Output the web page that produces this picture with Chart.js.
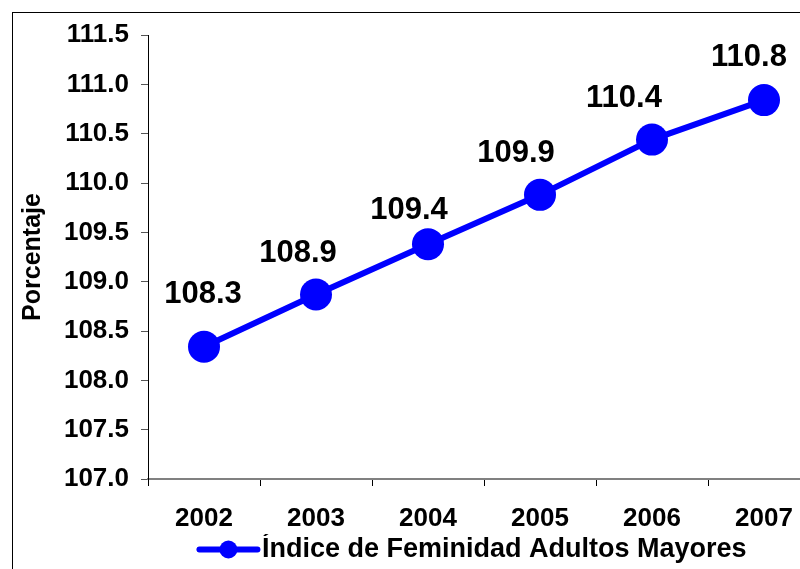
<!DOCTYPE html>
<html>
<head>
<meta charset="utf-8">
<script src="https://cdn.jsdelivr.net/npm/chart.js@4"></script>
<style>
  html, body { margin: 0; padding: 0; background: #fff; overflow: hidden; }
  #wrap { position: relative; width: 952px; height: 569px; }
</style>
</head>
<body>
<div id="wrap"><canvas id="myChart" width="952" height="569"></canvas></div>
<script>
// data
const years = ['2002', '2003', '2004', '2005', '2006', '2007']
const indice = [108.34, 108.87, 109.38, 109.88, 110.44, 110.84]
const serieName = 'Índice de Feminidad Adultos Mayores'
const yTitle = 'Porcentaje'

const font = "'Liberation Sans', Arial, sans-serif"
const blue = '#0000FF'

// outer frame of the original picture
const framePlugin = {
  id: 'frame',
  beforeDraw(chart) {
    const ctx = chart.ctx
    ctx.save()
    ctx.strokeStyle = '#000'
    ctx.lineWidth = 1
    ctx.strokeRect(12.5, 12.5, 2000, 2000)
    ctx.restore()
  }
}

// values above each point (labels were nudged by hand in the original)
const valueLabels = {
  id: 'valueLabels',
  afterDatasetsDraw(chart, args, opts) {
    const ctx = chart.ctx
    const meta = chart.getDatasetMeta(0)
    ctx.save()
    ctx.font = 'bold 31px ' + font
    ctx.fillStyle = '#000'
    ctx.textAlign = 'center'
    ctx.textBaseline = 'middle'
    meta.data.forEach((pt, i) => {
      ctx.fillText(indice[i].toFixed(1), pt.x + opts.dx[i], pt.y + opts.dy[i])
    })
    ctx.restore()
  }
}

// the legend sits right of the canvas centre (and a bit lower) in the original
const legendShift = {
  id: 'legendShift',
  afterLayout(chart) {
    chart.legend.left += 62
    chart.legend.right += 62
    chart.legend.top += 4
    chart.legend.bottom += 4
  }
}

// legend marker: line with a dot in the middle
const legendMarker = {
  id: 'legendMarker',
  afterDraw(chart) {
    const hb = chart.legend.legendHitBoxes[0]
    if (!hb) return
    const ctx = chart.ctx
    const cy = hb.top + hb.height / 2
    ctx.save()
    ctx.strokeStyle = blue
    ctx.lineWidth = 6
    ctx.lineCap = 'round'
    ctx.beginPath()
    ctx.moveTo(hb.left + 2, cy)
    ctx.lineTo(hb.left + 60, cy)
    ctx.stroke()
    ctx.fillStyle = blue
    ctx.beginPath()
    ctx.arc(hb.left + 31, cy, 9, 0, Math.PI * 2)
    ctx.fill()
    ctx.restore()
  }
}

const ctx = document.getElementById('myChart')
const myChart = new Chart(ctx, {
  type: 'line',
  data: {
    labels: years,
    datasets: [{
      label: serieName,
      data: indice,
      borderColor: blue,
      backgroundColor: blue,
      borderWidth: 6,
      pointRadius: 16,
      pointHoverRadius: 16,
      pointBackgroundColor: blue,
      pointBorderWidth: 0,
      tension: 0
    }]
  },
  options: {
    responsive: false,
    animation: false,
    layout: { padding: { left: 0, right: 132, top: 35, bottom: 0 } },
    scales: {
      x: {
        offset: true,
        grid: { display: true, drawOnChartArea: false, offset: true, tickLength: 7, tickColor: '#000', tickWidth: 1 },
        border: { color: '#808080', width: 2 },
        ticks: { color: '#000', font: { family: font, size: 26, weight: 'bold' }, padding: 17, maxRotation: 0 },
        afterFit(scale) { scale.height = 51 }
      },
      y: {
        min: 107,
        max: 111.5,
        ticks: {
          stepSize: 0.5,
          color: '#000',
          padding: 12,
          font: { family: font, size: 26, weight: 'bold' },
          callback: v => v.toFixed(1)
        },
        grid: { display: true, drawOnChartArea: false, tickLength: 7, tickColor: '#555', tickWidth: 1 },
        border: { color: '#000', width: 1 },
        title: {
          display: true,
          text: yTitle,
          color: '#000',
          font: { family: font, size: 25, weight: 'bold' },
          padding: { top: 18, bottom: 0 }
        },
        afterFit(scale) { scale.width = 148 }
      }
    },
    plugins: {
      legend: {
        position: 'bottom',
        labels: {
          color: '#000',
          font: { family: font, size: 27, weight: 'bold' },
          boxWidth: 51,
          boxHeight: 20,
          padding: 2,
          generateLabels(chart) {
            return [{
              text: serieName,
              fillStyle: 'rgba(0,0,0,0)',
              strokeStyle: 'rgba(0,0,0,0)',
              lineWidth: 0,
              datasetIndex: 0
            }]
          }
        }
      },
      valueLabels: {
        dx: [-1, -18, -19, -24, -28, -15],
        dy: [-52, -41, -34, -41, -41, -43]
      },
      tooltip: { enabled: false }
    }
  },
  plugins: [framePlugin, valueLabels, legendShift, legendMarker]
})
</script>
</body>
</html>
